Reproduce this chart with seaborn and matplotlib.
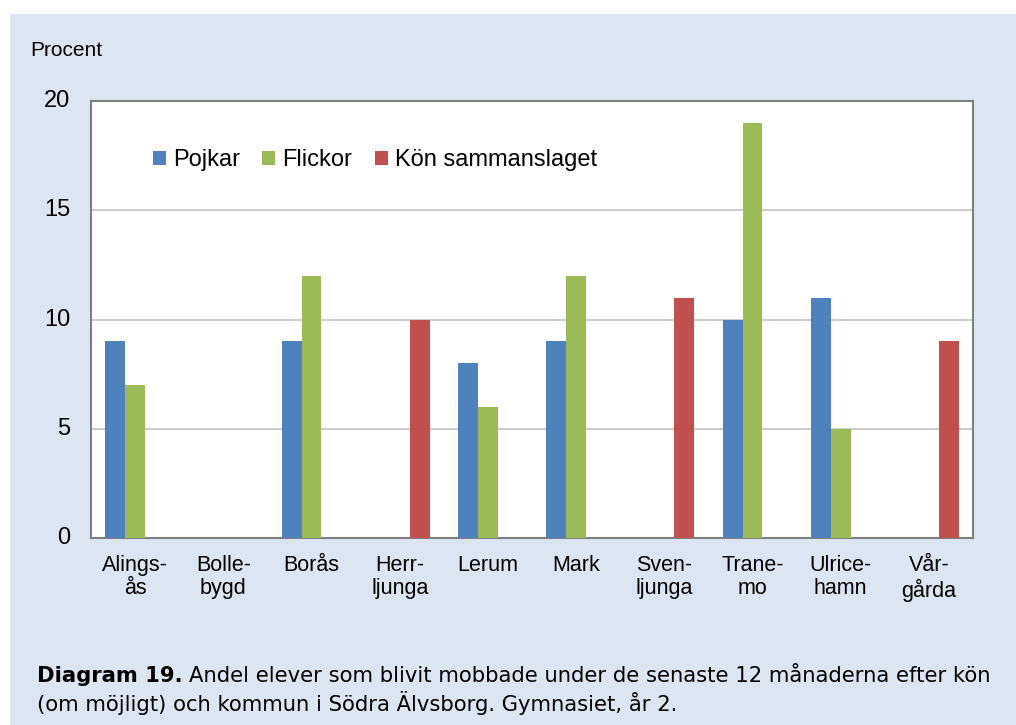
import numpy as np
import pandas as pd
import matplotlib
matplotlib.use("Agg")
import matplotlib.pyplot as plt
from matplotlib.patches import Rectangle
import seaborn as sns

kommuner = ["Alings-\nås", "Bolle-\nbygd", "Borås", "Herr-\nljunga", "Lerum",
            "Mark", "Sven-\nljunga", "Trane-\nmo", "Ulrice-\nhamn", "Vår-\ngårda"]
pojkar = [9, np.nan, 9, np.nan, 8, 9, np.nan, 10, 11, np.nan]
flickor = [7, np.nan, 12, np.nan, 6, 12, np.nan, 19, 5, np.nan]
kon_sammanslaget = [np.nan, np.nan, np.nan, 10, np.nan, np.nan, 11, np.nan, np.nan, 9]
serier = ["Pojkar", "Flickor", "Kön sammanslaget"]
farger = ["#4F81BD", "#9BBB59", "#C0504D"]
yticks = [0, 5, 10, 15, 20]

df = pd.DataFrame({"kommun": kommuner, "Pojkar": pojkar, "Flickor": flickor,
                   "Kön sammanslaget": kon_sammanslaget})
long = df.melt(id_vars="kommun", var_name="serie", value_name="procent").dropna()

sns.set_theme(style="white")
plt.rcParams['font.family'] = ['Liberation Sans', 'DejaVu Sans']
plt.rcParams['text.color'] = 'black'
plt.rcParams['xtick.color'] = 'black'
plt.rcParams['ytick.color'] = 'black'
plt.rcParams['xtick.labelcolor'] = 'black'
plt.rcParams['ytick.labelcolor'] = 'black'

W, H = 1016, 725
fig = plt.figure(figsize=(W / 100, H / 100), dpi=100)
fig.patch.set_facecolor("white")
bg = Rectangle((10 / W, 0), 1 - 10 / W, 1 - 14 / H, transform=fig.transFigure,
               facecolor="#DCE6F2", edgecolor="none", zorder=-10)
fig.patches.append(bg)

ax = fig.add_axes([91 / W, 1 - 538 / H, 882 / W, 437 / H])
ax.set_zorder(5)
ax.set_facecolor("white")
sns.barplot(data=long, x="kommun", y="procent", hue="serie", order=kommuner,
            hue_order=serier, palette=farger, width=0.68, saturation=1,
            linewidth=0, ax=ax, zorder=3)

ax.set_ylim(0, 20)
ax.set_xlim(-0.5, len(kommuner) - 0.5)
ax.set_yticks(yticks)
ax.yaxis.grid(True, color="#C8C8C8", linewidth=1.3, zorder=0)
ax.set_axisbelow(True)
for s in ax.spines.values():
    s.set_color("#808080")
    s.set_linewidth(1.5)
ax.tick_params(axis="y", labelsize=17, length=0, pad=15)
ax.tick_params(axis="x", labelsize=15.5, length=0, pad=12)
for lab in ax.get_yticklabels():
    lab.set_verticalalignment("center")
for lab in ax.get_xticklabels():
    lab.set_linespacing(1.15)
ax.set_xlabel("")
ax.set_ylabel("")

leg = ax.legend(loc="center left", bbox_to_anchor=(0.07, 0.864), ncol=3, frameon=False,
                fontsize=17, handlelength=0.55, handleheight=0.55, handletextpad=0.3,
                columnspacing=0.95, borderaxespad=0, borderpad=0)

fig.text(30 / W, 1 - 51 / H, "Procent", fontsize=15, va="center", ha="left")

cap_font = ['DejaVu Sans', 'Liberation Sans']
t1 = fig.text(37 / W, 1 - 676 / H, "Diagram 19.", fontsize=15.2, fontweight="bold",
              family=cap_font, va="center", ha="left")
fig.canvas.draw()
bb = t1.get_window_extent()
fig.text((bb.x1 + 6) / W, 1 - 676 / H,
         "Andel elever som blivit mobbade under de senaste 12 månaderna efter kön",
         fontsize=15.2, family=cap_font, va="center", ha="left")
fig.text(37 / W, 1 - 703 / H, "(om möjligt) och kommun i Södra Älvsborg. Gymnasiet, år 2.",
         fontsize=15.2, family=cap_font, va="center", ha="left")

fig.savefig("out.png", dpi=100, facecolor=fig.get_facecolor())
